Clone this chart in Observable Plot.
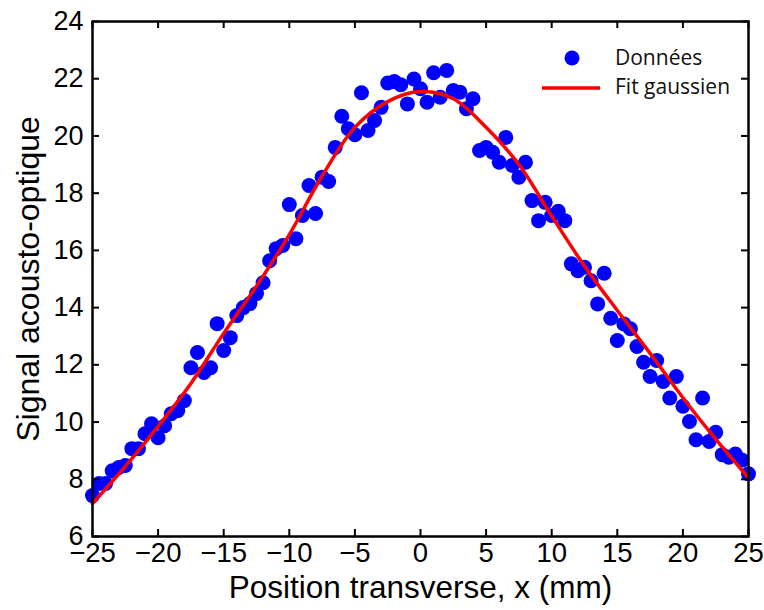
<!DOCTYPE html>
<html><head><meta charset="utf-8">
<script src="https://cdn.jsdelivr.net/npm/d3@7"></script>
<script src="https://cdn.jsdelivr.net/npm/@observablehq/plot@0.6"></script>
<style>
html,body{margin:0;padding:0;background:#fff;}
</style>
</head><body><div id="chart"></div>
<script>
const positions = [-25,-24.5,-24,-23.5,-23,-22.5,-22,-21.5,-21,-20.5,-20,-19.5,-19,-18.5,-18,-17.5,-17,-16.5,-16,-15.5,-15,-14.5,-14,-13.5,-13,-12.5,-12,-11.5,-11,-10.5,-10,-9.5,-9,-8.5,-8,-7.5,-7,-6.5,-6,-5.5,-5,-4.5,-4,-3.5,-3,-2.5,-2,-1.5,-1,-0.5,0,0.5,1,1.5,2,2.5,3,3.5,4,4.5,5,5.5,6,6.5,7,7.5,8,8.5,9,9.5,10,10.5,11,11.5,12,12.5,13,13.5,14,14.5,15,15.5,16,16.5,17,17.5,18,18.5,19,19.5,20,20.5,21,21.5,22,22.5,23,23.5,24,24.5,25];
const signal = [7.43,7.85,7.85,8.30,8.41,8.48,9.07,9.07,9.59,9.94,9.45,9.87,10.29,10.40,10.75,11.90,12.43,11.73,11.90,13.44,12.50,12.95,13.72,14.00,14.14,14.49,14.87,15.64,16.06,16.17,17.60,16.41,17.22,18.27,17.29,18.56,18.41,19.60,20.69,20.25,20.04,21.51,20.19,20.54,21.00,21.85,21.90,21.79,21.12,21.99,21.65,21.18,22.21,21.35,22.29,21.59,21.53,20.95,21.30,19.49,19.60,19.43,19.08,19.95,18.97,18.56,19.08,17.74,17.04,17.68,17.22,17.37,17.04,15.53,15.29,15.41,14.94,14.13,15.20,13.63,12.85,13.43,13.26,12.64,12.09,11.59,12.15,11.42,10.84,11.59,10.55,10.02,9.38,10.84,9.32,9.64,8.86,8.77,8.88,8.67,8.19];
const fitPositions = [-25,-22.5,-20,-17.5,-15,-12.5,-10,-7.5,-5,-2.5,0,2.5,5,7.5,10,12.5,15,17.5,20,22.5,25];
const fitValues = [7.15,8.45,9.85,11.35,13.1,14.75,16.55,18.6,20.3,21.2,21.55,21.3,20.3,19.0,17.2,15.45,13.9,12.4,10.85,9.4,8.05];
const xTicks = [-25,-20,-15,-10,-5,0,5,10,15,20,25];
const yTicks = [6,8,10,12,14,16,18,20,22,24];
const xLabel = "Position transverse, x (mm)";
const yLabel = "Signal acousto-optique";
const legendLabels = ["Données", "Fit gaussien"];

const points = positions.map((x, i) => ({x, y: signal[i]}));
const fit = fitPositions.map((x, i) => ({x, y: fitValues[i]}));

const W = 764, H = 610, mL = 92, mR = 16, mT = 21, mB = 74;
const pw = W - mL - mR, ph = H - mT - mB;
const tick = 7;
const font = "'Liberation Sans', Arial, sans-serif";

const chart = Plot.plot({
  width: W, height: H,
  marginLeft: mL, marginRight: mR, marginTop: mT, marginBottom: mB,
  style: {fontFamily: font, background: "white", overflow: "visible"},
  x: {domain: [-25, 25]},
  y: {domain: [6, 24]},
  marks: [
    Plot.dot(points, {x: "x", y: "y", r: 7.5, fill: "#0000ff", stroke: "none"}),
    Plot.line(fit, {x: "x", y: "y", stroke: "#ff0000", strokeWidth: 3.5, curve: "catmull-rom"}),
    Plot.tickX(xTicks, {x: d => d, insetTop: ph - tick, stroke: "black", strokeWidth: 2}),
    Plot.tickX(xTicks, {x: d => d, insetBottom: ph - tick, stroke: "black", strokeWidth: 2}),
    Plot.tickY(yTicks, {y: d => d, insetLeft: pw - tick, stroke: "black", strokeWidth: 2}),
    Plot.tickY(yTicks, {y: d => d, insetRight: pw - tick, stroke: "black", strokeWidth: 2}),
    Plot.frame({stroke: "black", strokeWidth: 2.5}),
    Plot.axisX({ticks: xTicks, tickSize: 0, tickPadding: 6, label: null, fontSize: 27.5, fill: "black"}),
    Plot.axisY({ticks: yTicks, tickSize: 0, tickPadding: 9, label: null, fontSize: 27, fill: "black"}),
    Plot.text([xLabel], {text: d => d, frameAnchor: "bottom", dy: 61, fontSize: 31.5, fill: "black", textAnchor: "middle"}),
    Plot.text([yLabel], {text: d => d, frameAnchor: "left", dx: -64, rotate: -90, fontSize: 32, fill: "black", textAnchor: "middle"})
  ]
});

document.getElementById("chart").appendChild(chart);

// legend (inside the plot, top-right)
const svg = d3.select(chart);
const lg = svg.append("g")
  .attr("font-family", "'Open Sans', 'Noto Sans', sans-serif")
  .attr("font-size", 21)
  .attr("fill", "#111")
  .attr("text-anchor", "start");
lg.append("circle").attr("cx", 572).attr("cy", 58).attr("r", 7.5).attr("fill", "#0000ff");
lg.append("text").attr("x", 615).attr("y", 58).attr("dy", "0.35em").text(legendLabels[0]);
lg.append("line").attr("x1", 542).attr("x2", 600).attr("y1", 88).attr("y2", 88).attr("stroke", "#ff0000").attr("stroke-width", 3.5);
lg.append("text").attr("x", 615).attr("y", 87).attr("dy", "0.35em").text(legendLabels[1]);
</script>
</body></html>
